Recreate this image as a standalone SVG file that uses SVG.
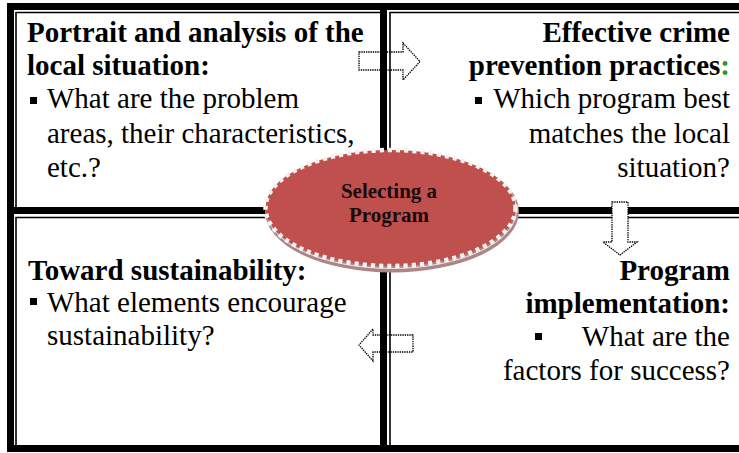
<svg xmlns="http://www.w3.org/2000/svg" width="739" height="453" viewBox="0 0 739 453">
<style>
.thick{fill:#000}
.thin{stroke:#000;stroke-width:1.6;fill:none}
.tx{font-family:"Liberation Serif","Times New Roman",serif;font-size:29px;fill:#000}
.hd{font-weight:bold}
.end{text-anchor:end}
.arrow{stroke:#000;stroke-width:1.3;stroke-dasharray:1.4 0.9;stroke-linejoin:miter}
.ct{font-family:"Liberation Serif","Times New Roman",serif;font-weight:bold;font-size:21px;text-anchor:middle;fill:#1a0a0a}
</style>
<rect width="739" height="453" fill="#fff"/>
<g id="box-portrait">
  <rect class="thick" x="7" y="3" width="380" height="7"/>
  <rect class="thick" x="7" y="3" width="7" height="211"/>
  <path class="thin" d="M16,207 V12.5 H380"/>
  <text class="tx hd" x="27" y="42">Portrait and analysis of the</text>
  <text class="tx hd" x="27" y="75">local situation:</text>
  <rect x="30" y="97" width="7" height="7" fill="#000"/>
  <text class="tx" x="47" y="108">What are the problem</text>
  <text class="tx" x="47" y="143">areas, their characteristics,</text>
  <text class="tx" x="47" y="177">etc.?</text>
</g>
<g id="box-practices">
  <rect class="thick" x="380" y="3" width="359" height="7"/>
  <rect class="thick" x="380" y="3" width="7" height="211"/>
  <path class="thin" d="M390,207 V12.5 H739"/>
  <text class="tx hd end" x="730" y="42">Effective crime</text>
  <text class="tx hd end" x="730" y="75">prevention practices<tspan fill="#1e9a1e">:</tspan></text>
  <rect x="475" y="97" width="7" height="7" fill="#000"/>
  <text class="tx end" x="730" y="108">Which program best</text>
  <text class="tx end" x="730" y="143">matches the local</text>
  <text class="tx end" x="730" y="177">situation?</text>
</g>
<g id="box-sustainability">
  <rect class="thick" x="7" y="207" width="380" height="7"/>
  <rect class="thick" x="7" y="207" width="7" height="245"/>
  <path class="thin" d="M16,445 V217.5 H380"/>
  <rect class="thick" x="7" y="445" width="380" height="7"/>
  <text class="tx hd" x="28" y="280">Toward sustainability:</text>
  <rect x="30" y="298" width="7" height="7" fill="#000"/>
  <text class="tx" x="47" y="312">What elements encourage</text>
  <text class="tx" x="47" y="345">sustainability?</text>
</g>
<g id="box-implementation">
  <rect class="thick" x="380" y="207" width="359" height="7"/>
  <rect class="thick" x="380" y="207" width="7" height="245"/>
  <path class="thin" d="M390,445 V217.5 H739"/>
  <rect class="thick" x="380" y="445" width="359" height="7"/>
  <text class="tx hd end" x="730" y="280">Program</text>
  <text class="tx hd end" x="730" y="313">implementation:</text>
  <rect x="535" y="333" width="7" height="7" fill="#000"/>
  <text class="tx end" x="730" y="346">What are the</text>
  <text class="tx end" x="730" y="380">factors for success?</text>
</g>
<g id="connectors">
  <path class="arrow" fill="none" d="M359,52 L403,52 L403,43 L420,61.5 L403,80 L403,70 L359,70 Z"/>
  <path class="arrow" fill="#fff" d="M612,202 L628,202 L628,242 L637,242 L620,255 L603,242 L612,242 Z"/>
  <path class="arrow" fill="none" d="M413,335 L373,335 L373,329 L359,345 L373,361 L373,352 L413,352 Z"/>
</g>
<g id="center-selecting">
  <ellipse cx="392" cy="211.5" rx="127" ry="61" fill="#ad8585"/>
  <ellipse cx="391.5" cy="210" rx="125" ry="58.5" fill="none" stroke="#fff" stroke-width="0.8"/>
  <ellipse cx="390.5" cy="208" rx="125" ry="58" fill="#c0504d" stroke="#f2f2f2" stroke-width="4.5" stroke-dasharray="4.2 4"/>
  <text class="ct" x="389" y="198">Selecting a</text>
  <text class="ct" x="389" y="222">Program</text>
</g>
</svg>
